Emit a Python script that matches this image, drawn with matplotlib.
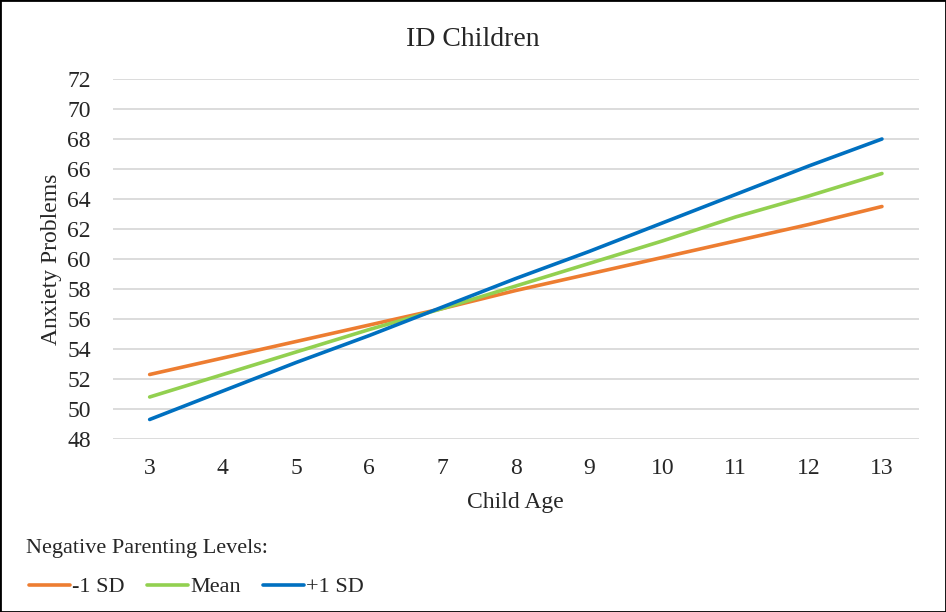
import matplotlib.pyplot as plt
from matplotlib.patches import Rectangle

# Valores
edades = [3, 4, 5, 6, 7, 8, 9, 10, 11, 12, 13]
menos_1sd = [52.3, 53.4, 54.5, 55.6, 56.7, 57.9, 59.0, 60.1, 61.2, 62.3, 63.5]
media = [50.8, 52.3, 53.8, 55.3, 56.7, 58.2, 59.7, 61.2, 62.8, 64.2, 65.7]
mas_1sd = [49.3, 51.2, 53.1, 54.9, 56.8, 58.7, 60.5, 62.4, 64.3, 66.2, 68.0]
etiquetas = ['-1 SD', 'Mean', '+1 SD']
colores = ['#ED7D31', '#92D050', '#0070C0']

plt.rcParams['font.family'] = ['Liberation Serif', 'DejaVu Serif']

fig = plt.figure(figsize=(9.46, 6.12), dpi=100)
ax = fig.add_axes([0.1195, 0.2827, 0.8515, 0.5882])

for serie, etiqueta, color in zip([menos_1sd, media, mas_1sd], etiquetas, colores):
    ax.plot(edades, serie, color=color, linewidth=2.6, label=etiqueta,
            solid_capstyle='round')

ax.set_xlim(2.5, 13.5)
ax.set_ylim(48, 72)
ax.set_xticks(edades)
ax.set_yticks(range(48, 73, 2))
ax.grid(axis='y', color='#d9d9d9', linewidth=1.3)
ax.set_axisbelow(True)
for s in ax.spines.values():
    s.set_visible(False)
ax.tick_params(axis='both', length=0, labelsize=17, colors='#262626')
ax.tick_params(axis='y', pad=16)
ax.tick_params(axis='x', pad=14)

ax.set_xlabel('Child Age', fontsize=17, color='#262626', labelpad=9)
ax.set_ylabel('Anxiety Problems', fontsize=17, color='#262626', labelpad=4)
fig.text(0.5, 0.935, 'ID Children', ha='center', va='center', fontsize=20,
         color='#262626')

fig.text(0.028, 1 - 548 / 612, 'Negative Parenting Levels:', ha='left',
         va='center', fontsize=16, color='#262626')
leg = fig.legend(loc='center left', bbox_to_anchor=(0.009, 1 - 587 / 612),
                 ncol=3, frameon=False, fontsize=16, handlelength=1.85,
                 handletextpad=0.1, columnspacing=1.0)
for t in leg.get_texts():
    t.set_color('#262626')

# Borde de la figura
fig.patches.append(Rectangle((0, 0), 1, 1, transform=fig.transFigure,
                             fill=False, edgecolor='black', linewidth=2))

fig.savefig('out.png', dpi=100)
